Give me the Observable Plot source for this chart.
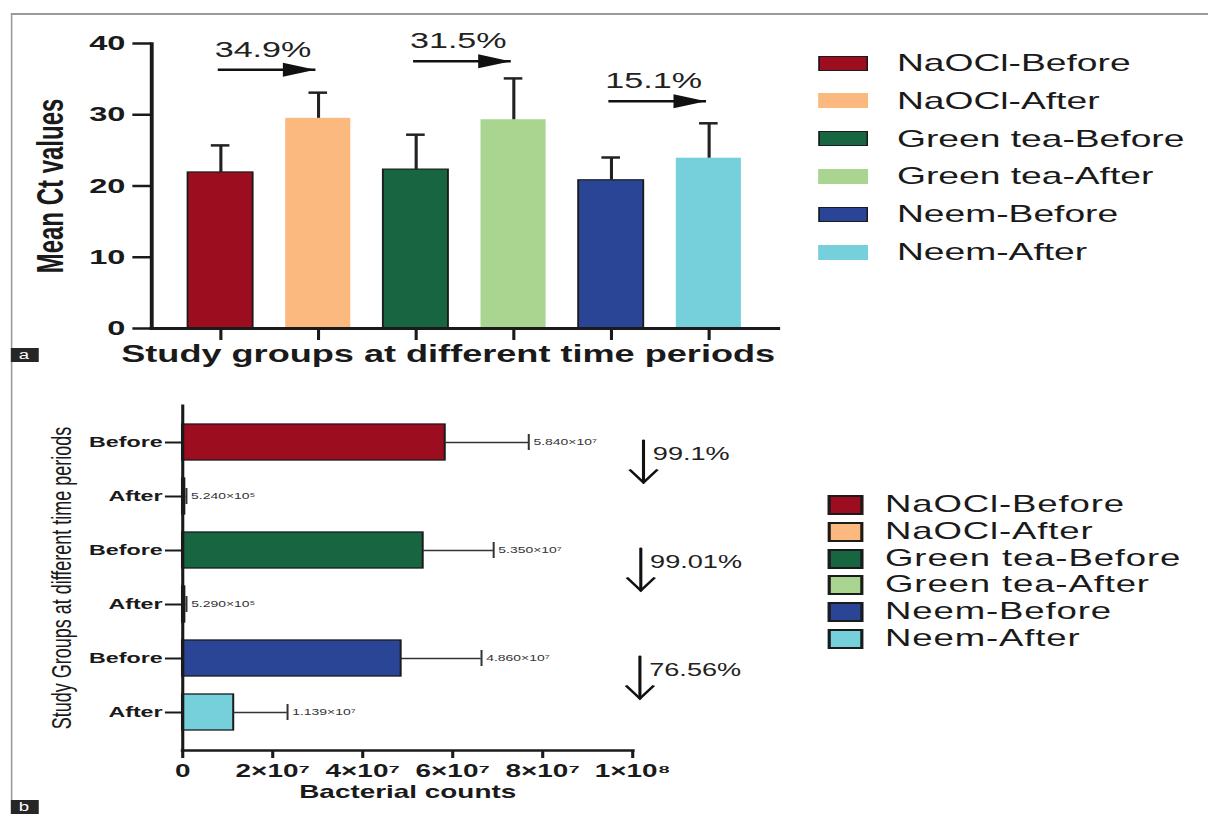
<!DOCTYPE html>
<html><head><meta charset="utf-8">
<script src="https://cdn.jsdelivr.net/npm/d3@7"></script>
<script src="https://cdn.jsdelivr.net/npm/@observablehq/plot@0.6"></script>
<style>
html,body{margin:0;padding:0;background:#fff;overflow:hidden;}
#fig{position:relative;width:780px;height:814px;transform:scaleX(1.55);transform-origin:0 0;font-family:"Liberation Sans",Arial,Helvetica,sans-serif;color:#1a1a1a;background:#fff;}
#fig svg{position:absolute;left:0;overflow:visible;}
.abs{position:absolute;}
.sw{position:absolute;box-sizing:border-box;}
.lab{position:absolute;white-space:nowrap;line-height:1;}
.tag{position:absolute;background:#262626;color:#fff;font-size:12px;line-height:14px;text-align:center;}
</style></head>
<body><div id="fig"></div>
<script>
// ---------- data ----------
const groups = ["NaOCl-Before","NaOCl-After","Green tea-Before","Green tea-After","Neem-Before","Neem-After"];
const groupColors = ["#9c0d1f","#fbb97f","#176641","#a9d591","#2a4596","#76d0dc"];

// panel a: mean Ct values
const meanCt = [21.9, 29.5, 22.3, 29.3, 20.8, 23.9];
const sdCt   = [3.8, 3.6, 4.9, 5.8, 3.2, 4.9];
const ctTicks = [0, 10, 20, 30, 40];
const ctFrom = ["NaOCl-Before","Green tea-Before","Neem-Before"];
const ctTo   = ["NaOCl-After","Green tea-After","Neem-After"];
const ctArrowY = [36.3, 37.5, 31.9];
const ctChange = ["34.9%","31.5%","15.1%"];

// panel b: bacterial counts
const countMean = [5.84e7, 5.24e5, 5.35e7, 5.29e5, 4.86e7, 1.139e7];
const countSD   = [1.85e7, 3.0e5, 1.56e7, 3.0e5, 1.78e7, 1.19e7];
const countLabels = ["5.840×10⁷","5.240×10⁵","5.350×10⁷","5.290×10⁵","4.860×10⁷","1.139×10⁷"];
const countTicks = [0, 2e7, 4e7, 6e7, 8e7, 1e8];
const countTickLabels = ["0","2×10⁷","4×10⁷","6×10⁷","8×10⁷","1×10⁸"];
const countArrowX = [1.024e8, 1.018e8, 1.016e8];
const countChange = ["99.1%","99.01%","76.56%"];

// ---------- build tables ----------
const ctRows = groups.map((g, i) => ({group: g, mean: meanCt[i], hi: meanCt[i] + sdCt[i], before: g.endsWith("Before")}));
const ctArrows = ctFrom.map((f, i) => ({from: f, to: ctTo[i], y: ctArrowY[i], label: ctChange[i]}));
const countRows = groups.map((g, i) => ({group: g, mean: countMean[i], hi: countMean[i] + countSD[i], label: countLabels[i]}));
const countArrows = ctFrom.map((f, i) => ({from: f, to: ctTo[i], x: countArrowX[i], label: countChange[i]}));

const FONT = '"Liberation Sans", Arial, Helvetica, sans-serif';
const triRight = {draw(ctx) { ctx.moveTo(0, 0); ctx.lineTo(-21, -7); ctx.lineTo(-21, 7); ctx.closePath(); }};
const chevDown = {draw(ctx) { ctx.moveTo(-9, -13); ctx.lineTo(0, 0); ctx.lineTo(9, -13); }};

const fig = document.getElementById("fig");

// ---------- panel a ----------
const W = 520;
const topPlot = Plot.plot({
  width: W, height: 390,
  marginLeft: 97.4, marginRight: W - 501.3, marginTop: 43, marginBottom: 62,
  style: {fontFamily: FONT, background: "transparent", color: "#1a1a1a"},
  x: {domain: groups, paddingInner: 0.34, paddingOuter: 0.34, axis: null},
  y: {domain: [0, 40], axis: null},
  color: {domain: groups, range: groupColors},
  marks: [
    Plot.barY(ctRows, {x: "group", y: "mean", fill: "group"}),
    Plot.barY(ctRows, {filter: d => d.before, x: "group", y: "mean", fill: "none", stroke: "#1b1b1b", strokeWidth: 1.2}),
    Plot.ruleX(ctRows, {x: "group", y1: "mean", y2: "hi", stroke: "#222", strokeWidth: 2}),
    Plot.tickY(ctRows, {x: "group", y: "hi", stroke: "#222", strokeWidth: 2.5, insetLeft: 15, insetRight: 15}),
    Plot.axisY({ticks: ctTicks, tickSize: 12, tickPadding: 5, fontSize: 21, fontWeight: "bold", strokeWidth: 2.5, label: null}),
    Plot.axisX({tickSize: 12, tickFormat: () => "", strokeWidth: 2, label: null}),
    Plot.frame({anchor: "left", strokeWidth: 2.5}),
    Plot.frame({anchor: "bottom", strokeWidth: 3}),
    Plot.text(["Mean Ct values"], {frameAnchor: "left", textAnchor: "middle", rotate: -90, dx: -65, fontSize: 24, fontWeight: "bold", text: d => d}),
    Plot.text(["Study groups at different time periods"], {frameAnchor: "bottom", dx: -10.7, dy: 33, fontSize: 23.3, fontWeight: "bold", text: d => d}),
    Plot.link(ctArrows, {x1: "from", x2: "to", y1: "y", y2: "y", stroke: "#111", strokeWidth: 2.5, dx: -2}),
    Plot.dot(ctArrows, {x: "to", y: "y", symbol: triRight, fill: "#111", stroke: "none", dx: -2}),
    Plot.text(ctArrows, {x: "from", y: "y", text: "label", textAnchor: "start", dx: -4, dy: -20, fontSize: 22, fill: "#222"})
  ]
});
topPlot.style.top = "0px";
fig.appendChild(topPlot);

// ---------- panel b ----------
const bottomPlot = Plot.plot({
  width: W, height: 424,
  marginLeft: 117.4, marginRight: W - 407.7, marginTop: 15, marginBottom: 64,
  style: {fontFamily: FONT, background: "transparent", color: "#1a1a1a"},
  x: {domain: [0, 1e8], axis: null},
  y: {domain: groups, paddingInner: 0.333, paddingOuter: 0.36, axis: null},
  color: {domain: groups, range: groupColors},
  marks: [
    Plot.barX(countRows, {y: "group", x: "mean", fill: "group", stroke: "#1b1b1b", strokeWidth: 1.3}),
    Plot.ruleY(countRows, {y: "group", x1: "mean", x2: "hi", stroke: "#333", strokeWidth: 1.3}),
    Plot.tickX(countRows, {y: "group", x: "hi", stroke: "#333", strokeWidth: 1.3, insetTop: 10, insetBottom: 10}),
    Plot.text(countRows, {y: "group", x: "hi", text: "label", dx: 3, textAnchor: "start", fontSize: 9, fill: "#333"}),
    Plot.axisY({tickSize: 11, tickPadding: 2, fontSize: 15, fontWeight: "bold", strokeWidth: 2, label: null, tickFormat: d => d.split("-").pop()}),
    Plot.axisX({ticks: countTicks, tickFormat: d => countTickLabels[countTicks.indexOf(d)], tickSize: 8, tickPadding: 6, fontSize: 18, fontWeight: "bold", strokeWidth: 2, label: null}),
    Plot.frame({anchor: "left", strokeWidth: 2}),
    Plot.frame({anchor: "bottom", strokeWidth: 2.5}),
    Plot.text(["Study Groups at different time periods"], {frameAnchor: "left", textAnchor: "middle", rotate: -90, dx: -78, fontSize: 18, text: d => d}),
    Plot.text(["Bacterial counts"], {frameAnchor: "bottom", dy: 47, fontSize: 18, fontWeight: "bold", text: d => d}),
    Plot.arrow(countArrows, {x1: "x", x2: "x", y1: "from", y2: "to", headLength: 0, insetEnd: 12, dy: -2, stroke: "#111", strokeWidth: 2}),
    Plot.dot(countArrows, {x: "x", y: "to", symbol: chevDown, fill: "none", stroke: "#111", strokeWidth: 2, dy: -14}),
    Plot.text(countArrows, {x: "x", y: "from", text: "label", textAnchor: "start", dx: 6, dy: 12, fontSize: 17.5, fill: "#222"})
  ]
});
bottomPlot.style.top = "390px";
fig.appendChild(bottomPlot);

// ---------- legends ----------
function el(cls, css, txt) {
  const d = document.createElement("div");
  d.className = cls;
  Object.assign(d.style, css);
  if (txt != null) d.textContent = txt;
  fig.appendChild(d);
  return d;
}
groups.forEach((g, i) => {
  const cy = 63 + i * 37.8;
  const before = g.endsWith("Before");
  el("sw", {left: "527.7px", top: (cy - 7.5) + "px", width: "32.3px", height: "15px", background: groupColors[i],
            border: before ? "1px solid #1b1b1b" : "1px solid " + groupColors[i]});
  el("lab", {left: "578.7px", top: (cy - 12) + "px", fontSize: "24px", color: "#1a1a1a"}, g);
});
groups.forEach((g, i) => {
  const cy = 505 + i * 26.8;
  el("sw", {left: "534.2px", top: (cy - 10) + "px", width: "22.6px", height: "20px", background: groupColors[i], border: "2px solid #1b1b1b"});
  el("lab", {left: "571px", top: (cy - 12) + "px", fontSize: "23.6px", letterSpacing: "0.55px", color: "#1a1a1a"}, g);
});

// ---------- frame and panel tags ----------
el("abs", {left: "6.5px", top: "13px", width: "774px", height: "1.5px", background: "#9a9a9a"});
el("abs", {left: "6.5px", top: "13px", width: "1px", height: "801px", background: "#9a9a9a"});
el("tag", {left: "6.5px", top: "348px", width: "18px", height: "14px"}, "a");
el("tag", {left: "6.5px", top: "800px", width: "18px", height: "14px"}, "b");
</script>
</body></html>
